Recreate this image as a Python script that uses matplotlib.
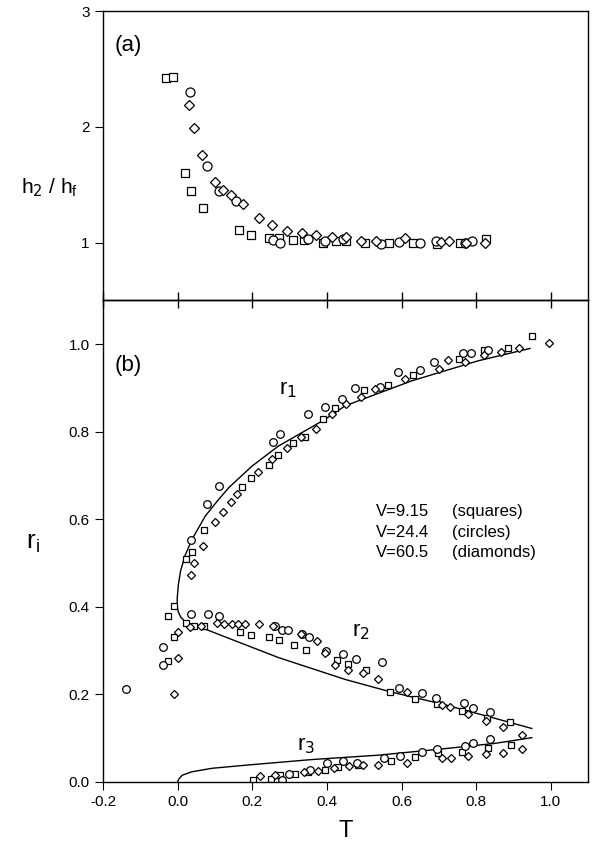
import matplotlib.pyplot as plt
import numpy as np

plt.rcParams['font.family'] = ['Liberation Sans', 'DejaVu Sans']

# ---- panel (a): h2/hf vs T ----
a_sq_T = [-0.031, -0.013, 0.020, 0.036, 0.069, 0.164, 0.196, 0.244, 0.272, 0.310, 0.339,
          0.390, 0.424, 0.452, 0.501, 0.567, 0.631, 0.695, 0.756, 0.827]
a_sq_h = [2.42, 2.43, 1.60, 1.446, 1.30, 1.11, 1.064, 1.04, 1.04, 1.023, 1.02,
          1.0, 1.01, 1.01, 1.0, 1.0, 1.0, 0.985, 1.0, 1.03]
a_ci_T = [0.033, 0.079, 0.110, 0.156, 0.256, 0.274, 0.350, 0.396, 0.443, 0.546, 0.593,
          0.650, 0.692, 0.769, 0.790]
a_ci_h = [2.30, 1.665, 1.446, 1.357, 1.02, 1.0, 1.03, 1.015, 1.03, 0.99, 1.005,
          0.995, 1.015, 1.0, 1.015]
a_di_T = [0.031, 0.044, 0.065, 0.101, 0.122, 0.142, 0.176, 0.217, 0.254, 0.293, 0.332,
          0.372, 0.413, 0.452, 0.491, 0.531, 0.609, 0.707, 0.727, 0.774, 0.824]
a_di_h = [2.19, 1.99, 1.76, 1.524, 1.455, 1.41, 1.33, 1.213, 1.15, 1.10, 1.08,
          1.064, 1.05, 1.045, 1.015, 1.015, 1.035, 1.005, 1.015, 0.995, 1.0]

# ---- panel (b): r_i vs T ----
b_sq_T = [0.949, 0.884, 0.822, 0.755, 0.630, 0.565, 0.500, 0.422, 0.389, 0.342, 0.308,
          0.270, 0.245, 0.196, 0.172, 0.070, 0.038, 0.022, -0.009, -0.026, 0.022, 0.043,
          0.070, -0.009, -0.026, 0.168, 0.197, 0.246, 0.273, 0.311, 0.345, 0.427, 0.456,
          0.504, 0.569, 0.635, 0.694, 0.761, 0.830, 0.891,
          0.201, 0.250, 0.275, 0.315, 0.349, 0.395, 0.431, 0.483, 0.571, 0.636, 0.697,
          0.761, 0.831, 0.893]
b_sq_r = [1.018, 0.990, 0.986, 0.967, 0.929, 0.906, 0.895, 0.853, 0.830, 0.788, 0.773,
          0.747, 0.724, 0.693, 0.673, 0.575, 0.524, 0.508, 0.401, 0.379, 0.363, 0.357,
          0.357, 0.332, 0.275, 0.342, 0.336, 0.331, 0.323, 0.313, 0.302, 0.279, 0.269,
          0.256, 0.205, 0.189, 0.178, 0.163, 0.147, 0.136,
          0.005, 0.006, 0.015, 0.019, 0.023, 0.026, 0.033, 0.038, 0.047, 0.056, 0.067,
          0.069, 0.078, 0.084]
b_ci_T = [0.110, 0.255, 0.274, 0.349, 0.395, 0.440, 0.474, 0.543, 0.590, 0.650, 0.688,
          0.764, 0.786, 0.831, 0.078, 0.036, 0.036, 0.081, 0.112, 0.260, 0.281, 0.295,
          0.333, 0.351, 0.397, 0.444, 0.478, 0.549, -0.039, -0.039, -0.137, 0.594, 0.654,
          0.693, 0.768, 0.791, 0.837,
          0.279, 0.299, 0.355, 0.400, 0.444, 0.480, 0.552, 0.596, 0.656, 0.694, 0.770,
          0.792, 0.837]
b_ci_r = [0.677, 0.777, 0.794, 0.840, 0.856, 0.874, 0.899, 0.902, 0.937, 0.940, 0.958,
          0.979, 0.979, 0.987, 0.635, 0.552, 0.383, 0.384, 0.380, 0.357, 0.347, 0.347,
          0.338, 0.332, 0.299, 0.292, 0.281, 0.273, 0.308, 0.267, 0.212, 0.214, 0.202,
          0.192, 0.180, 0.168, 0.160,
          0.005, 0.019, 0.028, 0.042, 0.047, 0.044, 0.055, 0.060, 0.069, 0.074, 0.082,
          0.089, 0.097]
b_di_T = [0.996, 0.915, 0.867, 0.822, 0.770, 0.724, 0.701, 0.608, 0.529, 0.492, 0.452,
          0.413, 0.370, 0.331, 0.293, 0.252, 0.215, 0.159, 0.144, 0.123, 0.101, 0.067,
          0.045, 0.036, 0.000, 0.000, 0.034, 0.063, 0.105, 0.125, 0.145, 0.161, 0.181,
          0.217, 0.255, 0.331, 0.373, 0.395, 0.422, 0.456, 0.496, 0.536, -0.009, 0.614,
          0.708, 0.730, 0.777, 0.825, 0.873, 0.922,
          0.220, 0.260, 0.340, 0.376, 0.420, 0.458, 0.496, 0.536, 0.614, 0.708, 0.732,
          0.777, 0.825, 0.873, 0.922]
b_di_r = [1.002, 0.990, 0.981, 0.975, 0.959, 0.963, 0.943, 0.920, 0.897, 0.880, 0.863,
          0.840, 0.807, 0.788, 0.763, 0.737, 0.708, 0.657, 0.639, 0.617, 0.594, 0.538,
          0.501, 0.473, 0.342, 0.283, 0.353, 0.357, 0.363, 0.360, 0.360, 0.360, 0.360,
          0.360, 0.355, 0.338, 0.322, 0.294, 0.267, 0.256, 0.248, 0.234, 0.200, 0.205,
          0.176, 0.170, 0.155, 0.140, 0.126, 0.107,
          0.013, 0.015, 0.023, 0.025, 0.031, 0.036, 0.038, 0.038, 0.044, 0.055, 0.055,
          0.059, 0.063, 0.067, 0.074]

# theory curves: r1 -> nose -> r2 as one branch, r3 separately
c12_T = [0.944, 0.806, 0.627, 0.449, 0.395, 0.270, 0.199, 0.137, 0.105, 0.074, 0.038,
         0.020, 0.008, 0.002, -0.001, -0.001, 0.002, 0.008, 0.018, 0.030, 0.043, 0.074,
         0.137, 0.270, 0.449, 0.569, 0.717, 0.851, 0.949]
c12_r = [0.990, 0.962, 0.916, 0.859, 0.828, 0.767, 0.721, 0.672, 0.640, 0.607, 0.553,
         0.517, 0.482, 0.450, 0.420, 0.400, 0.388, 0.377, 0.368, 0.362, 0.357, 0.349,
         0.328, 0.284, 0.234, 0.206, 0.176, 0.145, 0.122]
c3_T = [0.0, 0.003, 0.012, 0.038, 0.092, 0.181, 0.360, 0.538, 0.717, 0.851, 0.949]
c3_r = [0.0, 0.006, 0.015, 0.023, 0.031, 0.038, 0.051, 0.061, 0.076, 0.088, 0.101]

tick_T = [-0.2, 0.0, 0.2, 0.4, 0.6, 0.8, 1.0]
tick_lbl = ['-0.2', '0.0', '0.2', '0.4', '0.6', '0.8', '1.0']

fig = plt.figure(figsize=(6.02, 8.63), dpi=100)
ax2 = fig.add_axes([0.171, 0.094, 0.806, 0.558])
ax1 = fig.add_axes([0.171, 0.652, 0.806, 0.335])
ax1.set_facecolor('none')
ax2.set_facecolor('none')

mk = dict(linestyle='none', mfc='white', mec='black', mew=0.9)
ax1.plot(a_sq_T, a_sq_h, marker='s', ms=6, **mk)
ax1.plot(a_ci_T, a_ci_h, marker='o', ms=6.5, **mk)
ax1.plot(a_di_T, a_di_h, marker='D', ms=5.5, **mk)
ax1.set_xlim(-0.2, 1.1)
ax1.set_ylim(0.5, 3)
ax1.set_yticks([1, 2, 3])
ax1.set_xticks(tick_T)
ax1.tick_params(axis='x', direction='in', labelbottom=False, length=6, width=1)
ax1.tick_params(axis='y', direction='out', labelsize=11, length=6)
ax1.text(0.025, 0.882, '(a)', transform=ax1.transAxes, fontsize=16, va='center')
fig.text(0.083, 1 - 188 / 863, r'h$_2$ / h$_\mathregular{f}$', fontsize=15,
         ha='center', va='center')

ax2.plot(c12_T, c12_r, color='black', lw=1)
ax2.plot(c3_T, c3_r, color='black', lw=1)
ax2.plot(b_sq_T, b_sq_r, marker='s', ms=5, **mk)
ax2.plot(b_ci_T, b_ci_r, marker='o', ms=5.5, **mk)
ax2.plot(b_di_T, b_di_r, marker='D', ms=4.5, **mk)
ax2.set_xlim(-0.2, 1.1)
ax2.set_ylim(0, 1.1)
ax2.set_yticks([0.0, 0.2, 0.4, 0.6, 0.8, 1.0])
ax2.set_xticks(tick_T)
ax2.set_xticklabels(tick_lbl)
ax2.tick_params(axis='both', direction='out', labelsize=11, length=6)
top = ax2.secondary_xaxis('top')
top.set_xticks(tick_T)
top.tick_params(direction='in', length=6, width=1, labeltop=False)
ax2.set_xlabel('T', fontsize=17, labelpad=8)
ax2.text(0.025, 0.865, '(b)', transform=ax2.transAxes, fontsize=16, va='center')
ax2.text(0.297, 0.897, r'r$_1$', fontsize=16, ha='center', va='center')
ax2.text(0.49, 0.343, r'r$_2$', fontsize=16, ha='center', va='center')
ax2.text(0.343, 0.084, r'r$_3$', fontsize=16, ha='center', va='center')
for yy, v, s in [(0.617, 'V=9.15', '(squares)'), (0.570, 'V=24.4', '(circles)'),
                 (0.523, 'V=60.5', '(diamonds)')]:
    ax2.text(0.532, yy, v, fontsize=12, va='center')
    ax2.text(0.735, yy, s, fontsize=12, va='center')
fig.text(0.055, 1 - 543 / 863, r'r$_\mathregular{i}$', fontsize=19,
         ha='center', va='center')

for ax in (ax1, ax2):
    for sp in ax.spines.values():
        sp.set_linewidth(1)

plt.savefig('out.png', dpi=100)
